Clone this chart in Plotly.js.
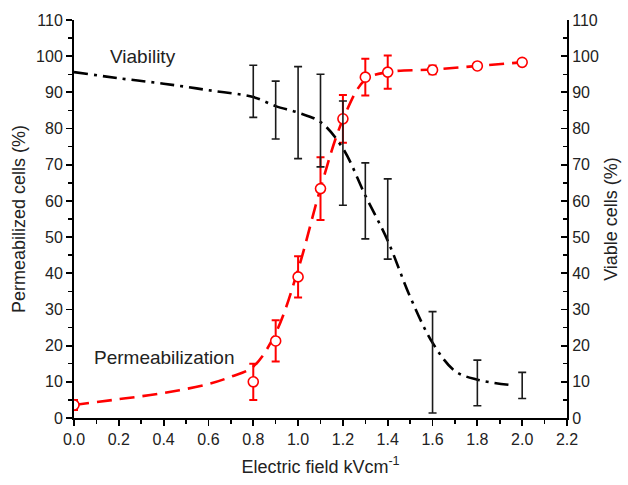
<!DOCTYPE html>
<html><head><meta charset="utf-8">
<script src="https://cdn.plot.ly/plotly-3.0.1.min.js"></script>
<style>html,body{margin:0;padding:0;background:#fff}#chart{width:628px;height:485px}</style>
</head><body><div id="chart"></div>
<script>
// Permeabilization data (mean and SD)
const permX = [0, 0.8, 0.9, 1.0, 1.1, 1.2, 1.3, 1.4, 1.6, 1.8, 2.0];
const permY = [3.6, 10.0, 21.3, 39.0, 63.4, 82.7, 94.2, 95.6, 96.2, 97.3, 98.3];
const permErr = [1.4, 5.0, 5.7, 5.7, 8.7, 6.6, 5.1, 4.6, 1.2, 0.8, 0.6];
// Permeabilization fitted curve
const permFitX = [0, 0.2, 0.4, 0.6, 0.7, 0.8, 0.9, 1.0, 1.1, 1.2, 1.3, 1.4, 1.6, 1.8, 2.0];
const permFitY = [3.6, 5.2, 6.9, 9.4, 11.4, 14.2, 23.5, 41.0, 63.5, 82.5, 93.5, 95.6, 96.3, 97.3, 98.3];
// Viability data (mean and SD)
const viaX = [0.8, 0.9, 1.0, 1.1, 1.2, 1.3, 1.4, 1.6, 1.8, 2.0];
const viaY = [90.3, 85.1, 84.4, 82.2, 73.2, 60.0, 55.0, 15.4, 9.7, 9.0];
const viaErr = [7.2, 8.0, 12.7, 12.8, 14.4, 10.5, 11.1, 14.0, 6.3, 3.6];
// Viability fitted curve
const viaFitX = [0, 0.2, 0.4, 0.6, 0.8, 0.9, 1.0, 1.1, 1.2, 1.3, 1.4, 1.5, 1.6, 1.7, 1.8, 1.95];
const viaFitY = [95.6, 93.9, 92.4, 90.6, 88.7, 86.2, 84.4, 81.8, 74.5, 61.5, 49.0, 33.5, 20.8, 13.0, 10.6, 9.1];
// Axis ticks
const xTicks = [0, 0.2, 0.4, 0.6, 0.8, 1.0, 1.2, 1.4, 1.6, 1.8, 2.0, 2.2];
const xTickText = ["0.0","0.2","0.4","0.6","0.8","1.0","1.2","1.4","1.6","1.8","2.0","2.2"];
const yTicks = [0,10,20,30,40,50,60,70,80,90,100,110];

const FONT = "Liberation Sans, Arial, sans-serif";
const traces = [
  {x: viaFitX, y: viaFitY, mode: 'lines', line: {color: '#000', width: 2.6, dash: '14px,6px,3px,6px', shape: 'spline'}, yaxis: 'y2', hoverinfo: 'skip'},
  {x: viaX, y: viaY, mode: 'markers', marker: {size: 1, color: 'rgba(0,0,0,0)'}, yaxis: 'y2',
   error_y: {type: 'data', array: viaErr, visible: true, color: '#1a1a1a', thickness: 1.6, width: 4}},
  {x: permFitX, y: permFitY, mode: 'lines', line: {color: '#ff0000', width: 2.6, dash: '15px,8px', shape: 'spline'}, hoverinfo: 'skip'},
  {x: permX, y: permY, mode: 'markers', marker: {symbol: 'circle', size: 10, color: '#fff', line: {color: '#ff0000', width: 1.6}},
   error_y: {type: 'data', array: permErr, visible: true, color: '#ff0000', thickness: 2, width: 4}}
];
const tickFont = {family: FONT, size: 16, color: '#222'};
const layout = {
  width: 628, height: 485,
  margin: {l: 74, r: 61, t: 20, b: 67},
  paper_bgcolor: '#fff', plot_bgcolor: '#fff',
  showlegend: false,
  font: {family: FONT, color: '#222'},
  xaxis: {range: [0, 2.2], tickvals: xTicks, ticktext: xTickText, ticks: 'outside', ticklen: 6, tickwidth: 1.8, tickcolor: '#000',
    minor: {dtick: 0.1, tick0: 0, ticks: 'outside', ticklen: 4, tickwidth: 1.5, tickcolor: '#000'},
    showline: true, linecolor: '#000', linewidth: 2, showgrid: false, zeroline: false, tickfont: tickFont,
    title: {text: 'Electric field kVcm<sup>-1</sup>', font: {family: FONT, size: 18, color: '#222'}, standoff: 13}},
  xaxis2: {range: [0, 2.2], overlaying: 'x', side: 'top', anchor: 'y', tickvals: xTicks, showticklabels: false,
    ticks: 'inside', ticklen: 5, tickwidth: 1.8, tickcolor: '#000',
    minor: {dtick: 0.1, tick0: 0, ticks: 'inside', ticklen: 3, tickwidth: 1.5, tickcolor: '#000'},
    showline: true, linecolor: '#000', linewidth: 2, showgrid: false, zeroline: false},
  yaxis: {range: [0, 110], tickvals: yTicks, ticks: 'outside', ticklen: 6, tickwidth: 1.8, tickcolor: '#000',
    minor: {dtick: 5, tick0: 0, ticks: 'outside', ticklen: 4, tickwidth: 1.5, tickcolor: '#000'},
    showline: true, linecolor: '#000', linewidth: 2, showgrid: false, zeroline: false, tickfont: tickFont,
    title: {text: 'Permeabilized cells (%)', font: {family: FONT, size: 18, color: '#222'}, standoff: 6}},
  yaxis2: {range: [0, 110], overlaying: 'y', side: 'right', anchor: 'x', tickvals: yTicks, ticks: 'inside', ticklen: 6, tickwidth: 1.8, tickcolor: '#000',
    minor: {dtick: 5, tick0: 0, ticks: 'inside', ticklen: 4, tickwidth: 1.5, tickcolor: '#000'},
    showline: true, linecolor: '#000', linewidth: 2, showgrid: false, zeroline: false, tickfont: tickFont,
    title: {text: 'Viable cells (%)', font: {family: FONT, size: 18, color: '#222'}, standoff: 6}},
  annotations: [
    {x: 0.31, y: 99.8, xref: 'x', yref: 'y', text: 'Viability', showarrow: false, font: {family: FONT, size: 19, color: '#222'}},
    {x: 0.40, y: 16.6, xref: 'x', yref: 'y', text: 'Permeabilization', showarrow: false, font: {family: FONT, size: 19, color: '#222'}}
  ]
};
Plotly.newPlot('chart', traces, layout, {displayModeBar: false, staticPlot: true});
</script></body></html>
